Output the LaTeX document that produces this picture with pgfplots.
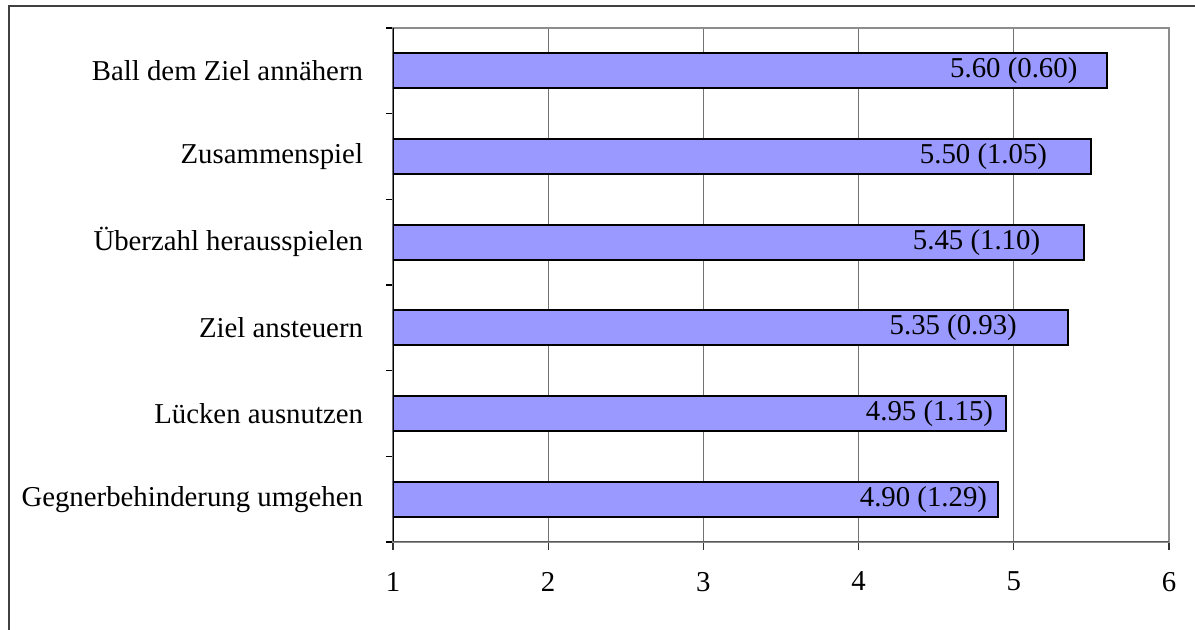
\documentclass[border=0pt]{standalone}
\usepackage{fontspec}
\setmainfont{Liberation Serif}
\usepackage{pgfplots}
\pgfplotsset{compat=1.18}
\definecolor{barfill}{HTML}{9999FF}

\begin{document}
\fontsize{14.4}{17}\selectfont
\begin{tikzpicture}
  \clip (0,0) rectangle (597.5pt,315pt);
  % outer chart frame (right and bottom edges fall outside the picture)
  \draw[line width=1pt, black!75] (4.5pt,-20pt) -- (4.5pt,312pt) -- (620pt,312pt);
  \begin{axis}[
      at={(196.5pt,44pt)}, anchor=south west,
      width=388pt, height=257pt, scale only axis,
      xbar, bar width=17.5pt, bar shift=0pt,
      xmin=1, xmax=6, ymin=-0.5, ymax=5.5,
      xtick={1,2,3,4,5,6},
      ytick={0,1,2,3,4,5},
      yticklabels={Gegnerbehinderung umgehen, Lücken ausnutzen, Ziel ansteuern,
                   Überzahl herausspielen, Zusammenspiel, Ball dem Ziel annähern\ },
      minor ytick={-0.5,0.5,1.5,2.5,3.5,4.5,5.5},
      xtick pos=bottom, ytick pos=left,
      tick align=outside,
      major tick length=4pt, minor tick length=3.5pt,
      every major y tick/.style={draw=none},
      every minor y tick/.style={draw=black, line width=0.6pt},
      every major x tick/.style={draw=black!80, line width=0.6pt},
      xmajorgrids, grid style={black!55, line width=0.5pt},
      axis line style={draw=black!45, line width=1pt},
      tick label style={font=\fontsize{14.4}{17}\selectfont},
      /pgf/number format/assume math mode=true,
      yticklabel style={xshift=-6pt},
      xticklabel style={yshift=-6pt},
    ]
    \addplot[fill=barfill, draw=black, line width=1pt] coordinates {
      (4.90,0) (4.95,1) (5.35,2) (5.45,3) (5.50,4) (5.60,5)
    };
    % axis lines redrawn over the bars
    \draw[black, line width=1pt] (axis cs:1,-0.5) -- (axis cs:1,5.5);
    \draw[black!65, line width=1pt] (axis cs:1,-0.5) -- (axis cs:6,-0.5);
    % value labels: mean (sd)
    \node at (axis cs:4.418,0) {4.90 (1.29)};
    \node at (axis cs:4.457,1) {4.95 (1.15)};
    \node at (axis cs:4.61,2) {5.35 (0.93)};
    \node at (axis cs:4.76,3) {5.45 (1.10)};
    \node at (axis cs:4.805,4) {5.50 (1.05)};
    \node at (axis cs:5.00,5) {5.60 (0.60)};
  \end{axis}
\end{tikzpicture}
\end{document}
